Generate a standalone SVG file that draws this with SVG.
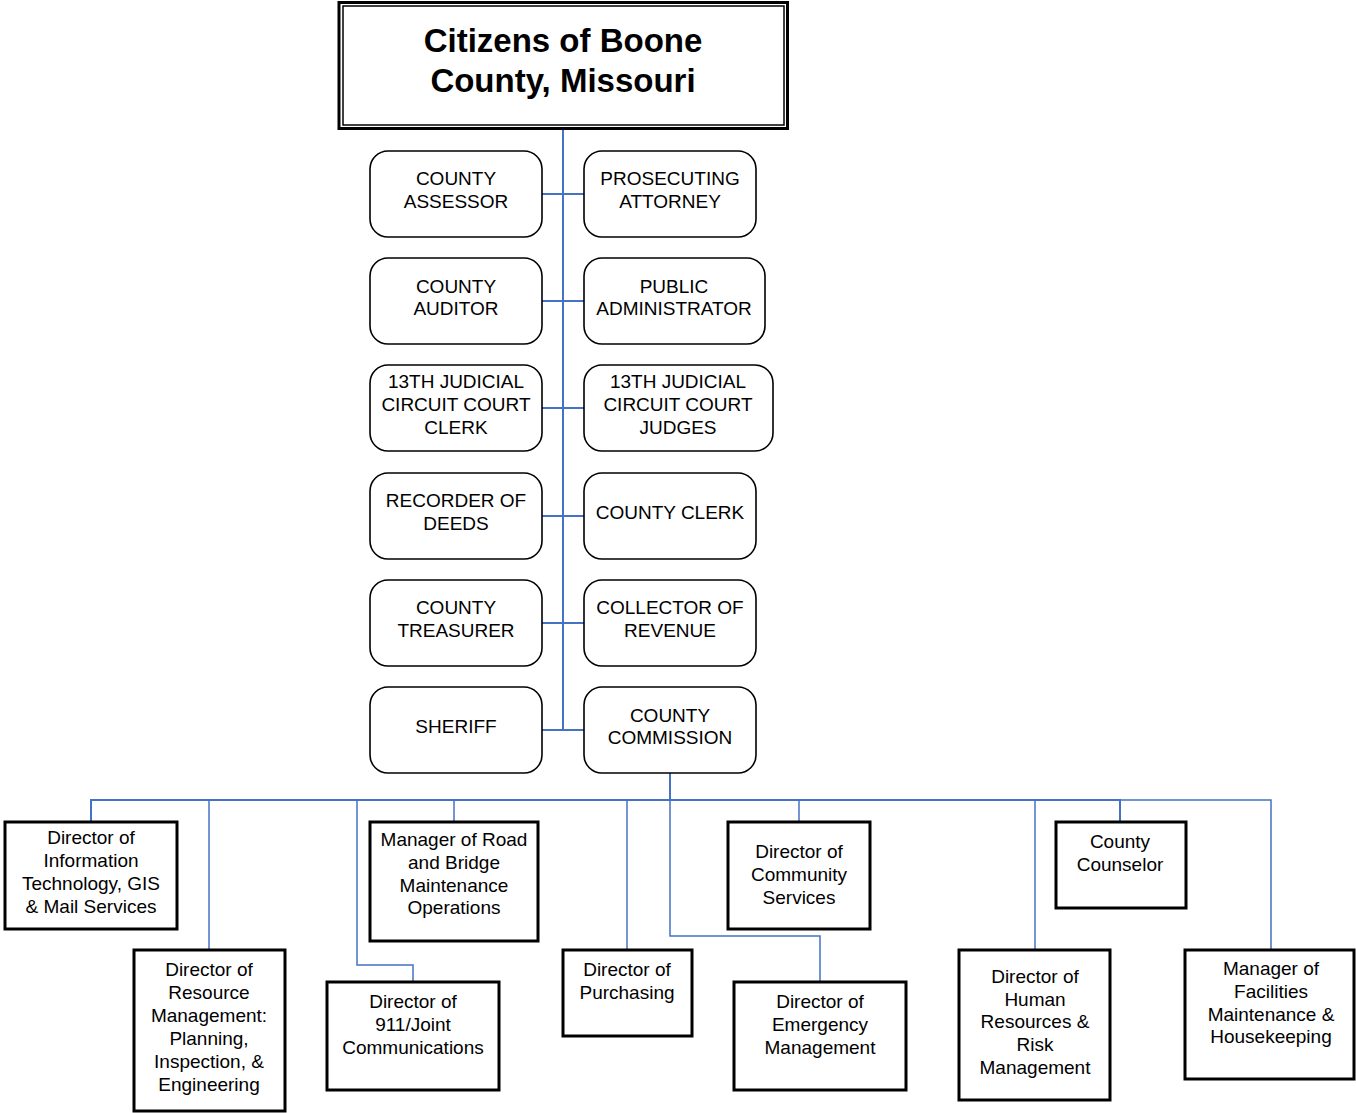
<svg xmlns="http://www.w3.org/2000/svg" width="1356" height="1113" viewBox="0 0 1356 1113">
<style>
text{font-family:"Liberation Sans",Arial,sans-serif;fill:#000;text-anchor:middle}
.t{font-size:33px;font-weight:bold}
.r{font-size:19px}
.b{font-size:19px}
.rb{fill:#fff;stroke:#000;stroke-width:1.6}
.sb{fill:#fff;stroke:#000;stroke-width:3}
.c{fill:none;stroke:#4472C4;stroke-width:2}
.c2{fill:none;stroke:#4472C4;stroke-width:1.5}
</style>
<rect width="1356" height="1113" fill="#fff"/>
<g id="connectors">
<path class="c" d="M563 130V730"/>
<path class="c" d="M542 194H584M542 301H584M542 408H584M542 516H584M542 623H584M542 730H584"/>
<path class="c" d="M670 773V800"/>
<path class="c" d="M91 822V800H1120V822"/>
<path class="c2" d="M1120 800H1271V950"/>
<path class="c2" d="M209 800V950"/>
<path class="c2" d="M454 800V822"/>
<path class="c2" d="M357 800V965H413V982"/>
<path class="c2" d="M627 800V950"/>
<path class="c2" d="M670 800V936H820V982"/>
<path class="c2" d="M799 800V822"/>
<path class="c2" d="M1035 800V950"/>
</g>
<g id="citizens">
<rect x="339" y="2.5" width="448.5" height="126" fill="#fff" stroke="#000" stroke-width="3"/>
<rect x="343" y="6" width="441" height="119" fill="none" stroke="#000" stroke-width="1.5"/>
<text class="t" x="563" y="52">Citizens of Boone</text>
<text class="t" x="563" y="92">County, Missouri</text>
</g>
<g id="assessor"><rect class="rb" x="370" y="151" width="172" height="86" rx="18"/><text class="r" x="456" y="184.5">COUNTY</text><text class="r" x="456" y="207.5">ASSESSOR</text></g>
<g id="prosecuting"><rect class="rb" x="584" y="151" width="172" height="86" rx="18"/><text class="r" x="670" y="184.5">PROSECUTING</text><text class="r" x="670" y="207.5">ATTORNEY</text></g>
<g id="auditor"><rect class="rb" x="370" y="258" width="172" height="86" rx="18"/><text class="r" x="456" y="292.5">COUNTY</text><text class="r" x="456" y="314.5">AUDITOR</text></g>
<g id="publicadmin"><rect class="rb" x="584" y="258" width="181" height="86" rx="18"/><text class="r" x="674" y="292.5">PUBLIC</text><text class="r" x="674" y="314.5">ADMINISTRATOR</text></g>
<g id="courtclerk"><rect class="rb" x="370" y="365" width="172" height="86" rx="18"/><text class="r" x="456" y="387.5">13TH JUDICIAL</text><text class="r" x="456" y="410.5">CIRCUIT COURT</text><text class="r" x="456" y="433.5">CLERK</text></g>
<g id="courtjudges"><rect class="rb" x="584" y="365" width="189" height="86" rx="18"/><text class="r" x="678" y="387.5">13TH JUDICIAL</text><text class="r" x="678" y="410.5">CIRCUIT COURT</text><text class="r" x="678" y="433.5">JUDGES</text></g>
<g id="recorder"><rect class="rb" x="370" y="473" width="172" height="86" rx="18"/><text class="r" x="456" y="506.5">RECORDER OF</text><text class="r" x="456" y="529.5">DEEDS</text></g>
<g id="countyclerk"><rect class="rb" x="584" y="473" width="172" height="86" rx="18"/><text class="r" x="670" y="518.5">COUNTY CLERK</text></g>
<g id="treasurer"><rect class="rb" x="370" y="580" width="172" height="86" rx="18"/><text class="r" x="456" y="613.5">COUNTY</text><text class="r" x="456" y="636.5">TREASURER</text></g>
<g id="collector"><rect class="rb" x="584" y="580" width="172" height="86" rx="18"/><text class="r" x="670" y="613.5">COLLECTOR OF</text><text class="r" x="670" y="636.5">REVENUE</text></g>
<g id="sheriff"><rect class="rb" x="370" y="687" width="172" height="86" rx="18"/><text class="r" x="456" y="732.5">SHERIFF</text></g>
<g id="commission"><rect class="rb" x="584" y="687" width="172" height="86" rx="18"/><text class="r" x="670" y="721.5">COUNTY</text><text class="r" x="670" y="743.5">COMMISSION</text></g>
<g id="it"><rect class="sb" x="5" y="822" width="172" height="107"/><text class="b" x="91" y="843.5">Director of</text><text class="b" x="91" y="866.5">Information</text><text class="b" x="91" y="889.5">Technology, GIS</text><text class="b" x="91" y="912.5">&amp; Mail Services</text></g>
<g id="resource"><rect class="sb" x="134" y="950" width="151" height="161"/><text class="b" x="209" y="975.5">Director of</text><text class="b" x="209" y="998.5">Resource</text><text class="b" x="209" y="1021.5">Management:</text><text class="b" x="209" y="1044.5">Planning,</text><text class="b" x="209" y="1067.5">Inspection, &amp;</text><text class="b" x="209" y="1090.5">Engineering</text></g>
<g id="road"><rect class="sb" x="370" y="822" width="168" height="119"/><text class="b" x="454" y="845.5">Manager of Road</text><text class="b" x="454" y="868.5">and Bridge</text><text class="b" x="454" y="891.5">Maintenance</text><text class="b" x="454" y="913.5">Operations</text></g>
<g id="e911"><rect class="sb" x="327" y="982" width="172" height="108"/><text class="b" x="413" y="1007.5">Director of</text><text class="b" x="413" y="1030.5">911/Joint</text><text class="b" x="413" y="1053.5">Communications</text></g>
<g id="purchasing"><rect class="sb" x="563" y="950" width="129" height="86"/><text class="b" x="627" y="975.5">Director of</text><text class="b" x="627" y="998.5">Purchasing</text></g>
<g id="community"><rect class="sb" x="728" y="822" width="142" height="107"/><text class="b" x="799" y="857.5">Director of</text><text class="b" x="799" y="880.5">Community</text><text class="b" x="799" y="903.5">Services</text></g>
<g id="emergency"><rect class="sb" x="734" y="982" width="172" height="108"/><text class="b" x="820" y="1007.5">Director of</text><text class="b" x="820" y="1030.5">Emergency</text><text class="b" x="820" y="1053.5">Management</text></g>
<g id="counselor"><rect class="sb" x="1056" y="822" width="130" height="86"/><text class="b" x="1120" y="847.5">County</text><text class="b" x="1120" y="870.5">Counselor</text></g>
<g id="hr"><rect class="sb" x="959" y="950" width="151" height="150"/><text class="b" x="1035" y="982.5">Director of</text><text class="b" x="1035" y="1005.5">Human</text><text class="b" x="1035" y="1027.5">Resources &amp;</text><text class="b" x="1035" y="1050.5">Risk</text><text class="b" x="1035" y="1073.5">Management</text></g>
<g id="facilities"><rect class="sb" x="1185" y="950" width="169" height="129"/><text class="b" x="1271" y="974.5">Manager of</text><text class="b" x="1271" y="997.5">Facilities</text><text class="b" x="1271" y="1020.5">Maintenance &amp;</text><text class="b" x="1271" y="1042.5">Housekeeping</text></g>
</svg>
